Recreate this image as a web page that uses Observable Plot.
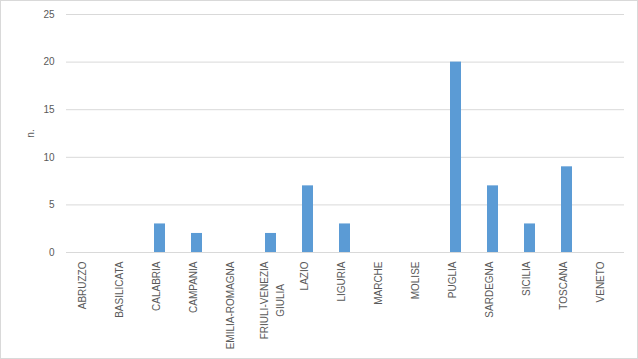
<!DOCTYPE html>
<html>
<head>
<meta charset="utf-8">
<script src="https://cdn.jsdelivr.net/npm/d3@7"></script>
<script src="https://cdn.jsdelivr.net/npm/@observablehq/plot@0.6"></script>
<style>
  html, body { margin: 0; padding: 0; background: #fff; }
  #wrap { position: relative; width: 638px; height: 359px; }
  #frame { position: absolute; left: 0; top: 0; width: 636px; height: 357px; border: 1px solid #d9d9d9; pointer-events: none; }
  svg { display: block; }
</style>
</head>
<body>
<div id="wrap"><div id="frame"></div></div>
<script>
const categories = ["ABRUZZO", "BASILICATA", "CALABRIA", "CAMPANIA", "EMILIA-ROMAGNA", "FRIULI-VENEZIA\nGIULIA", "LAZIO", "LIGURIA", "MARCHE", "MOLISE", "PUGLIA", "SARDEGNA", "SICILIA", "TOSCANA", "VENETO"];
const values = [0, 0, 3, 2, 0, 2, 7, 3, 0, 0, 20, 7, 3, 9, 0];
const yTicks = [0, 5, 10, 15, 20, 25];
const yLabel = "n.";

const data = categories.map((c, i) => ({region: c, n: values[i]}));
const font = "'Liberation Sans', Arial, sans-serif";

// measure text to centre multi-line labels like Excel does
const ctx = document.createElement("canvas").getContext("2d");
ctx.font = "10px " + font;
const maxLineWidth = s => Math.max(...s.split("\n").map(l => ctx.measureText(l).width));
const single = categories.filter(c => !c.includes("\n"));
const multi = categories.filter(c => c.includes("\n"));

const chart = Plot.plot({
  width: 638,
  height: 359,
  marginLeft: 66,
  marginRight: 14,
  marginTop: 14,
  marginBottom: 107,
  style: {fontFamily: font, fontSize: "10px", color: "#595959", background: "transparent"},
  x: {domain: categories, paddingInner: 0.7, paddingOuter: 0.35, axis: null},
  y: {domain: [0, 25], ticks: yTicks, label: null, axis: null},
  marks: [
    Plot.ruleY(yTicks, {stroke: "#d9d9d9", strokeWidth: 1}),
    Plot.barY(data, {x: "region", y: "n", fill: "#5b9bd5"}),
    Plot.axisY({ticks: yTicks, tickSize: 0, tickPadding: 12, label: yLabel, labelAnchor: "center", labelArrow: "none", labelOffset: 40, fill: "#595959"}),
    Plot.text(single, {x: d => d, frameAnchor: "bottom", dy: 9, rotate: -90, textAnchor: "end", fill: "#595959", fontSize: 10}),
    ...multi.map(m => Plot.text([m], {x: d => d, frameAnchor: "bottom", dy: 9 + maxLineWidth(m) / 2, rotate: -90, textAnchor: "middle", lineAnchor: "middle", lineHeight: 1.6, fill: "#595959", fontSize: 10}))
  ]
});
document.getElementById("wrap").prepend(chart);
</script>
</body>
</html>
